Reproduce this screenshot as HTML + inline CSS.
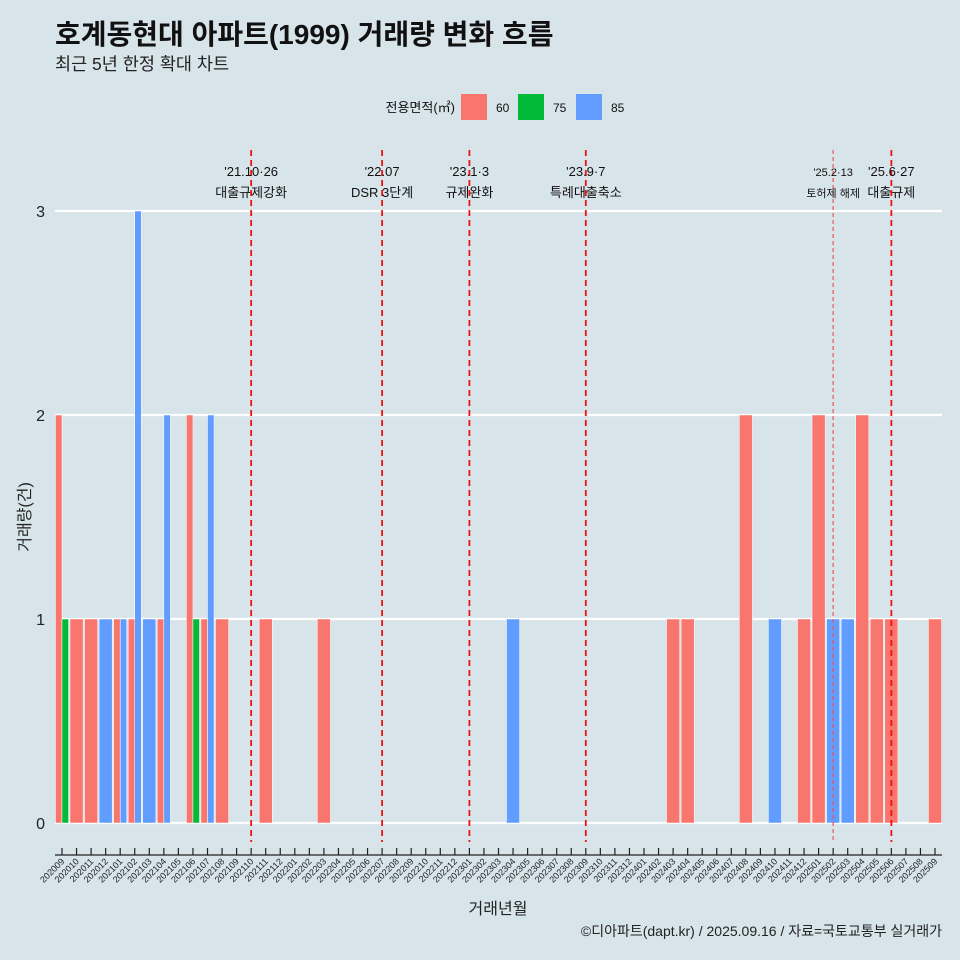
<!DOCTYPE html>
<html><head><meta charset="utf-8">
<style>
body{margin:0;background:#d7e4ea;}
svg{display:block;font-family:"Liberation Sans","Noto Sans CJK KR",sans-serif;}
</style></head>
<body>
<svg id="chart" width="960" height="960" viewBox="0 0 960 960">
<rect width="960" height="960" fill="#d7e4ea"/>
<text x="55" y="44" font-size="28" font-weight="bold" fill="#111">호계동현대 아파트(1999) 거래량 변화 흐름</text>
<text x="55" y="70" font-size="17.5" fill="#222">최근 5년 한정 확대 차트</text>
<g>
<text x="455" y="112" font-size="13" text-anchor="end" fill="#111">전용면적(㎡)</text>
<rect x="461" y="94" width="26" height="26" fill="#f8766d"/>
<text x="496" y="112" font-size="12" fill="#111">60</text>
<rect x="518" y="94" width="26" height="26" fill="#00ba38"/>
<text x="553" y="112" font-size="12" fill="#111">75</text>
<rect x="576" y="94" width="26" height="26" fill="#619cff"/>
<text x="611" y="112" font-size="12" fill="#111">85</text>
</g>
<text x="30" y="517" font-size="16" fill="#222" text-anchor="middle" transform="rotate(-90 30 517)">거래량(건)</text>
<text x="498" y="914" font-size="16" fill="#222" text-anchor="middle">거래년월</text>
<text x="942" y="936" font-size="14" fill="#222" text-anchor="end">©디아파트(dapt.kr) / 2025.09.16 / 자료=국토교통부 실거래가</text>
<g id="plot"></g>
</svg>
<script>
const months = [];
for (let y = 2020, m = 9; !(y === 2025 && m === 10); ) { months.push(String(y) + String(m).padStart(2, '0')); m++; if (m > 12) { m = 1; y++; } }
const sizes = ['60', '75', '85'];
const colors = {'60': '#f8766d', '75': '#00ba38', '85': '#619cff'};
const rows = [
 ['202009','60',2],['202009','75',1],['202010','60',1],['202011','60',1],['202012','85',1],
 ['202101','60',1],['202101','85',1],['202102','60',1],['202102','85',3],['202103','85',1],
 ['202104','60',1],['202104','85',2],['202106','60',2],['202106','75',1],['202107','60',1],['202107','85',2],
 ['202108','60',1],['202111','60',1],['202203','60',1],['202304','85',1],['202403','60',1],['202404','60',1],
 ['202408','60',2],['202410','85',1],['202412','60',1],['202501','60',2],['202502','85',1],['202503','85',1],
 ['202504','60',2],['202505','60',1],['202506','60',1],['202509','60',1]
];
const yTicks = [0, 1, 2, 3];
const eventMonths = ['202110','202207','202301','202309','202502','202506'];
const eventDates = ["'21.10·26","'22.07","'23.1·3","'23.9·7","'25.2·13","'25.6·27"];
const eventLabels = ['대출규제강화','DSR 3단계','규제완화','특례대출축소','토허제 해제','대출규제'];

const NS = 'http://www.w3.org/2000/svg';
const plot = document.getElementById('plot');
const x0 = 62, step = (935 - 62) / (months.length - 1);
const xPos = m => x0 + months.indexOf(m) * step;
const yPos = v => 823 - v * 204;
function mk(tag, attrs) { const e = document.createElementNS(NS, tag); for (const k in attrs) e.setAttribute(k, attrs[k]); plot.appendChild(e); return e; }

yTicks.forEach(t => {
  const g = mk('line', {x1: 55, x2: 942, y1: yPos(t), y2: yPos(t), stroke: '#fff', 'stroke-width': 2.2});
  
  
  const l = mk('text', {x: 45, y: yPos(t) + 6, 'font-size': 16, 'text-anchor': 'end', fill: '#222'});
  l.textContent = t;
  
  
});

months.forEach(m => {
  const recs = rows.filter(r => r[0] === m).sort((a, b) => sizes.indexOf(a[1]) - sizes.indexOf(b[1]));
  const w = step * 0.9, n = recs.length;
  recs.forEach((r, i) => {
    const bw = w / n;
    const bx = xPos(m) - w / 2 + i * bw;
    const b = mk('rect', {x: bx, y: yPos(r[2]), width: bw, height: yPos(0) - yPos(r[2]), fill: colors[r[1]], stroke: '#fff', 'stroke-width': 0.5});
    
    
  });
});

const ax = mk('line', {x1: 55, x2: 942, y1: 855, y2: 855, stroke: '#222', 'stroke-width': 1.2});


months.forEach(m => {
  const x = xPos(m);
  const t = mk('line', {x1: x, x2: x, y1: 848, y2: 855, stroke: '#222', 'stroke-width': 1.2});
  
  
  const l = mk('text', {x: x + 3, y: 862, 'font-size': 9, 'text-anchor': 'end', fill: '#222', transform: 'rotate(-45 ' + (x + 3) + ' 862)'});
  l.textContent = m;
  
  
});

eventMonths.forEach((m, i) => {
  const x = xPos(m);
  const thin = m === '202502';
  const ln = mk('line', {x1: x, x2: x, y1: 150, y2: 842, stroke: thin ? '#e8555a' : '#ee1111', 'stroke-width': thin ? 1.2 : 1.8, 'stroke-dasharray': thin ? '4 3' : '6 4'});
  
  
  const fs = thin ? 11 : 13;
  const d = mk('text', {x: x, y: 176, 'font-size': thin ? 11 : 13, 'text-anchor': 'middle', fill: '#111'});
  d.textContent = eventDates[i];
  
  
  const t = mk('text', {x: x, y: 197, 'font-size': fs, 'text-anchor': 'middle', fill: '#111'});
  t.textContent = eventLabels[i];
  
  
});
</script>
</body></html>
